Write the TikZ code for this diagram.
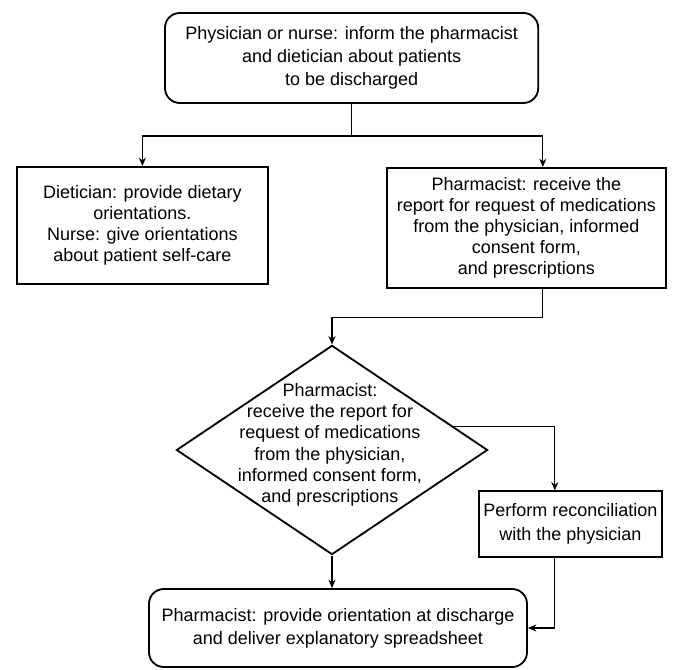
\documentclass[tikz,border=0pt]{standalone}
\usepackage{fontspec}
\setmainfont{Liberation Sans}
\usetikzlibrary{shapes.geometric,arrows.meta,positioning}

\begin{document}
\begin{tikzpicture}
	\useasboundingbox (0,0) rectangle (16.9,-16.725);
	\tikzstyle{every node}=[align=center, inner sep=1pt, font=\fontsize{12.8}{15}\selectfont]
	\tikzstyle{box}=[draw, line width=1.3pt, rectangle]
	\tikzstyle{roundbox}=[box, rounded corners=0.37cm, font=\fontsize{12.8}{16.5}\selectfont]
	\tikzstyle{arr}=[line width=0.8pt, -{Stealth[length=6pt, width=5pt]}]

	\node[roundbox, minimum width=9.33cm, minimum height=2.25cm] (top) at (8.79, -1.45) {Physician or nurse: inform the pharmacist\\ and dietician about patients\\ to be discharged};
	\node[box, minimum width=6.28cm, minimum height=2.93cm] (diet) at (3.56, -5.64) {Dietician: provide dietary\\ orientations.\\ Nurse: give orientations\\ about patient self-care};
	\node[box, minimum width=6.98cm, minimum height=3.0cm] (pharm) at (13.16, -5.70) {Pharmacist: receive the\\ report for request of medications\\ from the physician, informed\\ consent form,\\ and prescriptions};
	\node[draw, diamond, line width=1.3pt, inner sep=0pt, minimum width=7.78cm, minimum height=5.23cm] (dia) at (8.30, -11.25) {};
	\node (diatext) at (8.25, -11.12) {Pharmacist:\\ receive the report for\\ request of medications\\ from the physician,\\ informed consent form,\\ and prescriptions};
	\node[box, minimum width=4.58cm, minimum height=1.63cm, font=\fontsize{12.8}{17}\selectfont] (recon) at (14.26, -13.10) {Perform reconciliation\\ with the physician};
	\node[roundbox, minimum width=9.45cm, minimum height=1.95cm] (final) at (8.45, -15.70) {Pharmacist: provide orientation at discharge\\ and deliver explanatory spreadsheet};
	\coordinate (fork) at (8.79, -3.4);

	\draw[line width=0.8pt] (top.south) -- (fork);
	\draw[arr] (fork) -| (diet.north);
	\draw[arr] (fork) -| ([xshift=0.41cm]pharm.north);
	\draw[arr] ([xshift=0.41cm]pharm.south) -- ++(0,-0.72) -| (dia.north);
	\draw[arr] (dia.11) -| ([xshift=-0.39cm]recon.north);
	\draw[arr] ([xshift=-0.39cm]recon.south) |- (final.east);
	\draw[arr] (dia.south) -- (dia.south |- final.north);
\end{tikzpicture}
\end{document}
